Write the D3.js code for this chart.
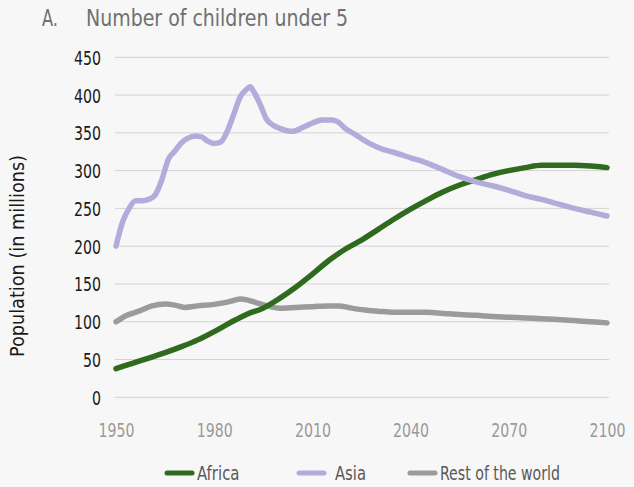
<!DOCTYPE html>
<html><head><meta charset="utf-8">
<script src="https://cdn.jsdelivr.net/npm/d3@7"></script>
<style>
html,body{margin:0;padding:0;background:#f7f7f7;}
svg{display:block;}
text{font-family:"DejaVu Sans Condensed","Liberation Sans Narrow","Roboto",sans-serif;}
</style></head>
<body>
<script>
const yTicks = [0, 50, 100, 150, 200, 250, 300, 350, 400, 450];
const xTicks = [1950, 1980, 2010, 2040, 2070, 2100];
const seriesNames = ["Africa", "Asia", "Rest of the world"];
const seriesColors = ["#2f6a1e", "#b1acda", "#9b9b9b"];

const africaYears = [1950,1955,1960,1965,1970,1975,1980,1985,1990,1995,2000,2005,2010,2015,2020,2025,2030,2035,2040,2045,2050,2055,2060,2065,2070,2075,2080,2085,2090,2095,2100];
const africaValues = [38,45,52,59,67,76,87,99,110,118,131,146,163,181,196,208,222,236,249,261,272,281,288,295,300,304,307,307,307,306,304];

const asiaYears = [1950,1952,1954,1956,1958,1960,1962,1964,1966,1968,1970,1972,1974,1976,1978,1980,1982,1984,1986,1988,1990,1991,1992,1994,1996,1998,2000,2004,2007,2010,2013,2016,2018,2020,2023,2027,2031,2035,2040,2045,2050,2055,2060,2065,2070,2075,2080,2085,2090,2095,2100];
const asiaValues = [200,232,250,260,260,262,268,288,315,326,337,343,346,345,339,336,338,352,375,398,408,411,405,388,368,360,356,352,357,363,367,367,364,356,348,337,329,324,317,310,301,292,285,280,274,267,262,256,250,245,240];

const restYears = [1950,1953,1957,1961,1965,1968,1971,1975,1980,1984,1988,1990,1993,1997,2000,2005,2010,2015,2018,2022,2026,2030,2035,2040,2045,2050,2055,2060,2065,2070,2075,2080,2085,2090,2095,2100];
const restValues = [100,108,114,121,123.5,122,119,121,123,126,130,129,125,120,118,119,120,121,121,118,115.5,114,112.5,112.5,112.5,111,109.5,108.5,107,106,105,104,103,101.5,100,98.5];

const W = 634, H = 487;
const svg = d3.select("body").append("svg").attr("width", W).attr("height", H);

const x = d3.scaleLinear().domain([1950, 2100]).range([116, 607]);
const y = d3.scaleLinear().domain([0, 450]).range([397.3, 57.3]);

// condense text horizontally by factor k
function condense(sel, k) {
  sel.each(function() {
    const w = this.getComputedTextLength();
    d3.select(this).attr("textLength", w * k).attr("lengthAdjust", "spacingAndGlyphs");
  });
}
function fitWidth(sel, target) {
  sel.each(function() {
    d3.select(this).attr("textLength", target).attr("lengthAdjust", "spacingAndGlyphs");
  });
}

// title
fitWidth(svg.append("text").attr("x", 42).attr("y", 25.5).attr("fill", "#707070")
  .attr("font-size", 23).text("A."), 16);
fitWidth(svg.append("text").attr("x", 86).attr("y", 25.5).attr("fill", "#707070")
  .attr("font-size", 23).text("Number of children under 5"), 262);

// gridlines
svg.append("g").selectAll("line").data(yTicks).join("line")
  .attr("x1", 115).attr("x2", 609)
  .attr("y1", d => y(d)).attr("y2", d => y(d))
  .attr("stroke", "#d3d3d3").attr("stroke-width", 1);

// y axis labels
const yAxis = d3.axisLeft(y).tickValues(yTicks).tickSize(0).tickPadding(0);
const gy = svg.append("g").attr("transform", "translate(101,0)").call(yAxis);
gy.select(".domain").remove();
const yText = gy.selectAll("text").attr("font-size", 19.5).attr("fill", "#1a1a1a")
  .attr("dy", "0.36em")
  .style("font-family", '"DejaVu Sans Condensed",sans-serif');
let ky = 1;
yText.each(function(d) { if (d === 450) ky = 27 / this.getComputedTextLength(); });
condense(yText, ky);

// x axis labels
const xAxis = d3.axisBottom(x).tickValues(xTicks).tickFormat(d3.format("d")).tickSize(0).tickPadding(0);
const gx = svg.append("g").attr("transform", "translate(0,0)").call(xAxis);
gx.select(".domain").remove();
const xText = gx.selectAll("text").attr("font-size", 20).attr("fill", "#9a9a9a")
  .attr("y", 437).attr("dy", 0)
  .style("font-family", '"DejaVu Sans Condensed",sans-serif');
let kx = 1;
xText.each(function(d) { if (d === 1950) kx = 36 / this.getComputedTextLength(); });
condense(xText, kx);

// y axis title
fitWidth(svg.append("text").attr("transform", "translate(24,256) rotate(-90)")
  .attr("text-anchor", "middle").attr("fill", "#1a1a1a").attr("font-size", 19)
  .text("Population (in millions)"), 202);

// lines
const series = [
  {name: seriesNames[2], color: seriesColors[2], years: restYears, values: restValues},
  {name: seriesNames[0], color: seriesColors[0], years: africaYears, values: africaValues},
  {name: seriesNames[1], color: seriesColors[1], years: asiaYears, values: asiaValues}
];
const line = d3.line().x(d => x(d[0])).y(d => y(d[1])).curve(d3.curveMonotoneX);
svg.append("g").selectAll("path").data(series).join("path")
  .attr("d", s => line(s.years.map((yr, i) => [yr, s.values[i]])))
  .attr("fill", "none").attr("stroke", s => s.color)
  .attr("stroke-width", 5.5).attr("stroke-linecap", "round").attr("stroke-linejoin", "round");

// legend
const legX = [167, 299, 410];
const legTextX = [197, 335, 440];
const legW = [42.5, 31, 120];
const leg = svg.append("g").selectAll("g").data(seriesNames).join("g");
leg.append("line").attr("x1", (d, i) => legX[i]).attr("x2", (d, i) => legX[i] + 25)
  .attr("y1", 473).attr("y2", 473)
  .attr("stroke", (d, i) => seriesColors[i]).attr("stroke-width", 5).attr("stroke-linecap", "round");
leg.append("text").attr("x", (d, i) => legTextX[i]).attr("y", 480)
  .attr("font-size", 19).attr("fill", "#595959").text(d => d)
  .each(function(d, i) {
    d3.select(this).attr("textLength", legW[i]).attr("lengthAdjust", "spacingAndGlyphs");
  });
</script>
</body></html>
